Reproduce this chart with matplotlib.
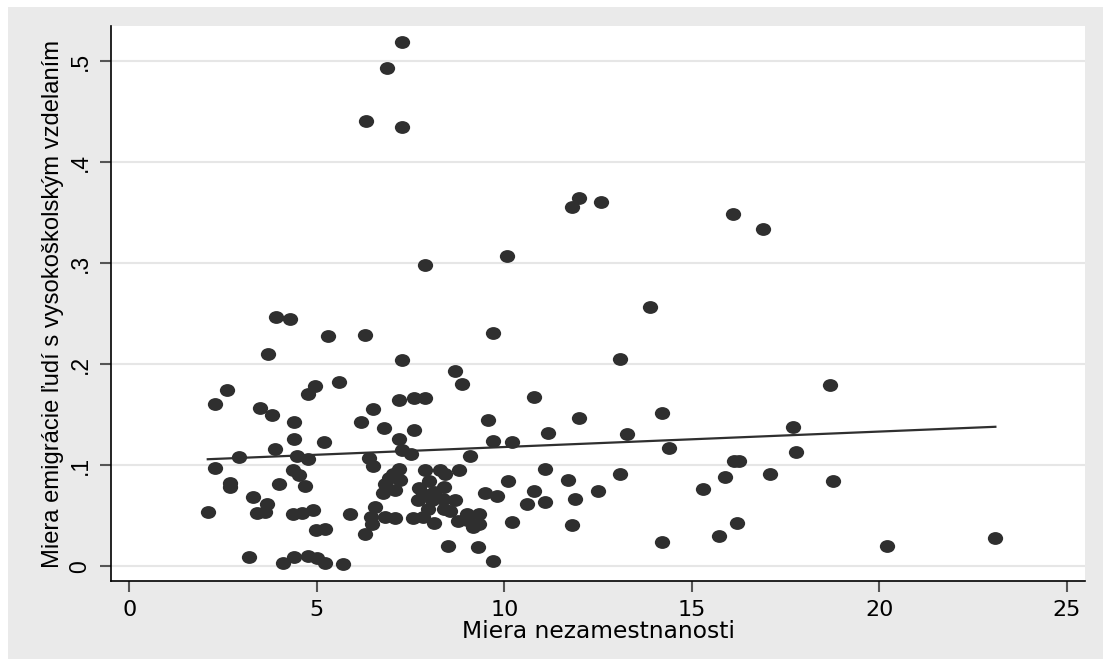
import numpy as np
import matplotlib
matplotlib.use("Agg")
from matplotlib import pyplot as plt
from matplotlib.patches import Rectangle
from matplotlib.path import Path
from matplotlib.transforms import Affine2D

# unemployment rate (x) and tertiary-educated emigration rate (y), one entry per region
unemp = [7.27, 6.87, 6.30, 7.27, 12.00, 11.80, 12.58, 16.09, 16.90, 10.08,
         7.89, 13.89, 3.91, 4.29, 5.29, 6.29, 9.69, 3.69, 7.28, 13.09,
         8.69, 8.88, 18.69, 5.59, 4.95, 4.77, 2.60, 2.29, 3.49, 6.49,
         3.80, 4.39, 6.18, 7.19, 7.58, 7.89, 10.78, 9.57, 14.20, 11.99,
         6.80, 7.58, 11.17, 13.28, 17.69, 7.20, 9.69, 10.20, 14.40, 17.78,
         4.39, 5.19, 3.89, 7.26, 7.51, 2.91, 4.48, 4.77, 6.39, 9.09,
         16.11, 16.25, 6.49, 2.29, 4.37, 4.51, 7.19, 7.04, 6.91, 7.22,
         6.82, 7.09, 6.77, 7.89, 8.29, 8.42, 8.79, 11.09, 13.09, 17.09,
         15.89, 11.69, 10.09, 18.77, 7.98, 2.69, 2.69, 3.99, 4.69, 8.39,
         7.71, 15.29, 10.79, 12.50, 8.11, 7.84, 9.49, 9.80, 3.29, 11.89,
         7.69, 8.06, 8.37, 8.69, 11.09, 10.60, 3.68, 6.55, 7.97, 8.39,
         8.55, 4.89, 2.09, 3.40, 3.62, 4.37, 4.60, 5.89, 9.00, 9.31,
         6.82, 7.09, 6.45, 7.57, 7.84, 8.11, 8.77, 9.00, 9.17, 9.31,
         6.46, 10.19, 11.79, 16.20, 4.98, 5.22, 6.29, 15.71, 23.09, 14.20,
         8.49, 9.29, 20.20, 3.18, 4.40, 4.77, 5.00, 4.09, 5.22, 5.69,
         9.69]
emig = [0.519, 0.493, 0.441, 0.435, 0.365, 0.356, 0.361, 0.349, 0.334, 0.307,
        0.298, 0.257, 0.247, 0.245, 0.228, 0.229, 0.231, 0.210, 0.204, 0.205,
        0.193, 0.181, 0.180, 0.183, 0.179, 0.171, 0.175, 0.161, 0.157, 0.156,
        0.150, 0.143, 0.143, 0.165, 0.167, 0.167, 0.168, 0.145, 0.152, 0.147,
        0.137, 0.135, 0.132, 0.131, 0.138, 0.126, 0.124, 0.123, 0.117, 0.113,
        0.126, 0.123, 0.116, 0.115, 0.111, 0.108, 0.109, 0.106, 0.107, 0.109,
        0.104, 0.104, 0.0995, 0.097, 0.095, 0.091, 0.096, 0.092, 0.088, 0.086,
        0.082, 0.076, 0.0725, 0.095, 0.0955, 0.092, 0.0955, 0.096, 0.092, 0.092,
        0.089, 0.086, 0.085, 0.085, 0.085, 0.083, 0.079, 0.082, 0.080, 0.079,
        0.078, 0.077, 0.075, 0.075, 0.074, 0.072, 0.0725, 0.070, 0.069, 0.067,
        0.066, 0.066, 0.067, 0.0655, 0.0636, 0.062, 0.062, 0.0586, 0.0566, 0.0566,
        0.0553, 0.056, 0.054, 0.053, 0.054, 0.052, 0.053, 0.052, 0.052, 0.052,
        0.049, 0.048, 0.049, 0.048, 0.049, 0.043, 0.045, 0.046, 0.039, 0.042,
        0.042, 0.044, 0.041, 0.043, 0.036, 0.037, 0.032, 0.030, 0.028, 0.024,
        0.020, 0.019, 0.020, 0.0097, 0.0091, 0.0107, 0.0081, 0.0032, 0.0038, 0.0025,
        0.0054]

xticks = [0, 5, 10, 15, 20, 25]
yticks = [0, 0.1, 0.2, 0.3, 0.4, 0.5]
ytick_labels = ["0", ".1", ".2", ".3", ".4", ".5"]

x = np.array(unemp)
y = np.array(emig)

# linear fit over the observed range
b, a = np.polyfit(x, y, 1)
xf = np.array([x.min(), x.max()])
yf = a + b * xf

plt.rcParams['font.family'] = ['Liberation Sans', 'DejaVu Sans']

fig = plt.figure(figsize=(11.03, 6.59), dpi=100)
fig.patch.set_facecolor("white")
fig.patches.append(Rectangle((8 / 1103, 0), 1 - 8 / 1103, 1 - 7 / 659,
                             transform=fig.transFigure, facecolor="#eaeaea",
                             edgecolor="none", zorder=-10))

ax = fig.add_axes([111 / 1103, 78 / 659, 974 / 1103, 555 / 659])
ax.set_facecolor("white")

# slightly flattened dot
dot = Path.unit_circle().transformed(Affine2D().scale(1.0, 0.84))

ax.scatter(x, y, s=11 ** 2, marker=dot, color="#2f2f2f", linewidths=0, zorder=3)
ax.plot(xf, yf, color="#2f2f2f", linewidth=1.6, zorder=4)

ax.set_xlim(-0.49, 25.48)
ax.set_ylim(-0.0144, 0.535)
ax.set_xticks(xticks)
ax.set_xticklabels([str(t) for t in xticks], family="DejaVu Sans", fontsize=16)
ax.set_yticks(yticks)
ax.set_yticklabels(ytick_labels, rotation=90, va="center", fontsize=16.5)

ax.grid(axis="y", color="#e6e6e6", linewidth=1.5, zorder=0)
ax.set_axisbelow(True)

for side in ["top", "right"]:
    ax.spines[side].set_visible(False)
for side in ["left", "bottom"]:
    ax.spines[side].set_color("black")
    ax.spines[side].set_linewidth(1.2)

ax.tick_params(axis="both", direction="out", length=8, width=1.5,
               color="#555555", labelcolor="black", pad=6)

ax.set_xlabel("Miera nezamestnanosti", family="DejaVu Sans", fontsize=16.8, labelpad=0)
ax.set_ylabel("Miera emigrácie ľudí s vysokoškolským vzdelaním", fontsize=17.1, labelpad=3)

fig.savefig("out.png", dpi=100)
